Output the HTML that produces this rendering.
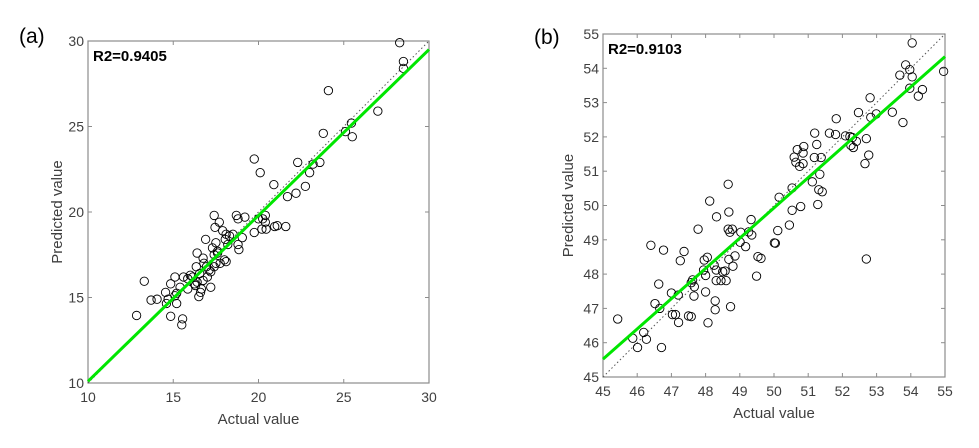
<!DOCTYPE html>
<html><head><meta charset="utf-8"><style>
body{margin:0;background:#fff;}
svg text{font-family:"Liberation Sans",Arial,sans-serif;}
</style></head><body>
<svg id="root" width="979" height="443" viewBox="0 0 979 443" xmlns="http://www.w3.org/2000/svg">
<rect width="979" height="443" fill="#fff"/>
</svg>
<script>
// ---------- Panel (a) data ----------
const aActual = [28.28,28.5,28.5,24.1,27.0,25.45,25.1,25.5,23.8,19.75,20.1,22.3,23.2,23.6,23.0,20.9,22.75,22.2,21.7,20.0,20.4,20.25,20.4,19.75,20.2,20.45,20.95,21.1,21.6,18.7,18.8,19.2,19.05,18.8,18.85,17.4,17.7,17.45,16.9,17.9,18.1,18.3,18.5,18.05,18.2,17.5,17.3,17.6,17.4,18.0,18.1,17.5,17.2,16.4,16.75,16.95,16.35,16.55,16.15,16.4,16.75,17.0,16.25,16.65,16.5,15.85,15.6,15.85,15.1,14.85,13.3,15.4,15.2,15.1,14.55,14.7,14.6,15.2,14.05,13.7,12.85,14.85,15.55,15.5,16.6,17.4,17.2,17.75,16.8,17.1,16.3,17.6,16.0];
const aPred   = [29.9,28.8,28.4,27.1,25.9,25.2,24.7,24.4,24.6,23.1,22.3,22.9,22.8,22.9,22.3,21.6,21.5,21.1,20.9,19.6,19.8,19.6,19.4,18.8,19.0,19.0,19.15,19.2,19.15,19.8,19.6,19.7,18.5,18.1,17.8,19.8,19.4,19.1,18.4,18.9,18.7,18.6,18.7,18.4,18.1,18.2,17.9,17.6,17.5,17.2,17.1,17.0,15.6,17.6,17.3,16.8,16.8,16.4,16.2,15.9,16.0,16.2,15.8,15.5,15.05,16.1,16.2,15.5,16.2,15.8,15.95,15.6,15.25,15.1,15.3,14.9,14.65,14.65,14.9,14.85,13.95,13.9,13.75,13.4,15.3,16.8,16.5,17.0,17.0,16.6,15.7,17.7,16.3];
const aTicks = [10,15,20,25,30];
const aFit = [0.97, 0.4]; // slope, intercept
// ---------- Panel (b) data ----------
const bActual = [54.04,53.85,53.97,54.04,53.68,54.96,53.97,54.34,54.22,52.81,52.47,52.99,52.83,53.46,53.77,51.82,51.62,51.8,51.19,52.09,52.22,52.29,52.41,52.25,52.32,52.7,52.77,52.66,52.7,51.25,50.68,50.87,50.85,50.59,50.64,50.85,50.75,51.18,51.38,51.34,51.12,51.31,51.41,51.28,50.53,50.15,50.53,50.78,50.45,50.11,50.01,50.04,48.66,48.12,48.68,48.32,49.33,48.66,48.78,48.71,49.03,49.26,49.35,49.17,49.01,49.53,49.62,48.86,48.68,48.8,49.49,48.73,47.78,47.37,47.26,46.77,46.4,48.05,47.96,48.25,47.94,48.31,48.5,48.57,48.0,48.31,48.45,48.6,47.62,47.58,47.67,47.66,48.0,46.63,47.0,47.2,48.28,48.28,46.52,46.66,47.03,47.12,47.5,47.58,47.21,48.07,45.43,45.87,46.19,46.27,46.01,46.71];
const bPred   = [54.74,54.1,53.96,53.75,53.8,53.91,53.42,53.38,53.19,53.14,52.71,52.67,52.57,52.72,52.42,52.53,52.11,52.07,52.11,52.03,52.01,51.98,51.87,51.75,51.69,51.95,51.47,51.22,48.44,51.78,51.63,51.72,51.53,51.41,51.26,51.22,51.14,51.4,51.4,50.91,50.69,50.46,50.4,50.03,50.51,50.24,49.86,49.97,49.43,49.27,48.91,48.9,50.62,50.13,49.81,49.67,49.59,49.31,49.31,49.22,49.22,49.23,49.14,48.8,48.93,48.51,48.46,48.53,48.43,48.23,47.94,47.05,49.31,48.66,48.39,48.7,48.84,48.49,48.41,48.26,48.12,48.12,48.07,48.09,47.96,47.81,47.81,47.81,47.83,47.75,47.63,47.36,47.48,47.71,47.45,47.39,47.22,46.96,47.14,47.0,46.82,46.82,46.78,46.76,46.59,46.58,46.69,46.13,46.3,46.1,45.86,45.86];
const bTicks = [45,46,47,48,49,50,51,52,53,54,55];
const bFit = [0.882, 5.83];

const NS = "http://www.w3.org/2000/svg";
const root = document.getElementById('root');
function mk(tag, attrs, parent){ const e=document.createElementNS(NS,tag); for(const k in attrs) e.setAttribute(k,attrs[k]); (parent||root).appendChild(e); return e; }

function panel(cfg){
  const g = mk('g',{});
  
  
  const {L,T,W,H,min,max} = cfg;
  const sx = v => L + (v-min)/(max-min)*W;
  const sy = v => T + H - (v-min)/(max-min)*H;
  const frame = mk('rect',{x:L,y:T,width:W,height:H,fill:'#fff',stroke:'#8c8c8c','stroke-width':1.2},g);
  
  
  cfg.ticks.forEach(t=>{
    mk('line',{x1:sx(t),x2:sx(t),y1:T+H,y2:T+H-4,stroke:'#8c8c8c'},g);
    mk('line',{x1:sx(t),x2:sx(t),y1:T,y2:T+4,stroke:'#8c8c8c'},g);
    mk('line',{x1:L,x2:L+4,y1:sy(t),y2:sy(t),stroke:'#8c8c8c'},g);
    mk('line',{x1:L+W,x2:L+W-4,y1:sy(t),y2:sy(t),stroke:'#8c8c8c'},g);
    const xt = mk('text',{x:sx(t),y:T+H+19,'text-anchor':'middle','font-size':14,fill:'#404040'},g);
    xt.textContent = t;
    
    
    const yt = mk('text',{x:L-4,y:sy(t)+5,'text-anchor':'end','font-size':14,fill:'#404040'},g);
    yt.textContent = t;
    
    
  });
  const diag = mk('line',{x1:sx(min),y1:sy(min),x2:sx(max),y2:sy(max),stroke:'#555','stroke-width':1,'stroke-dasharray':'1.5,2.5'},g);
  
  
  cfg.xs.forEach((x,i)=>{
    const c = mk('circle',{cx:sx(x),cy:sy(cfg.ys[i]),r:4.2,fill:'none',stroke:'#000','stroke-width':0.9},g);
    
    
  });
  const [m,b] = cfg.fit;
  const fl = mk('line',{x1:sx(min),y1:sy(m*min+b),x2:sx(max),y2:sy(m*max+b),stroke:'#00e600','stroke-width':3},g);
  
  
  const r2 = mk('text',{x:L+5,y:T+20,'font-size':15,'font-weight':'bold',fill:'#000'},g);
  r2.textContent = cfg.r2;
  
  
  const xl = mk('text',{x:L+W/2,y:T+H+41,'text-anchor':'middle','font-size':15,fill:'#404040'},g);
  xl.textContent = 'Actual value';
  
  
  const yl = mk('text',{x:0,y:0,'text-anchor':'middle','font-size':15,fill:'#404040',transform:`translate(${cfg.ylx},${T+H/2}) rotate(-90)`},g);
  yl.textContent = 'Predicted value';
  
  
  const pl = mk('text',{x:cfg.plx,y:cfg.ply,'font-size':21,fill:'#000'},g);
  pl.textContent = cfg.label;
  
  
}
panel({name:'panel-a',L:88,T:41,W:341,H:342,min:10,max:30,ticks:aTicks,xs:aActual,ys:aPred,fit:aFit,r2:'R2=0.9405',ylx:62,plx:19,ply:43,label:'(a)'});
panel({name:'panel-b',L:603,T:34,W:342,H:343,min:45,max:55,ticks:bTicks,xs:bActual,ys:bPred,fit:bFit,r2:'R2=0.9103',ylx:573,plx:534,ply:44,label:'(b)'});
</script>
</body></html>
